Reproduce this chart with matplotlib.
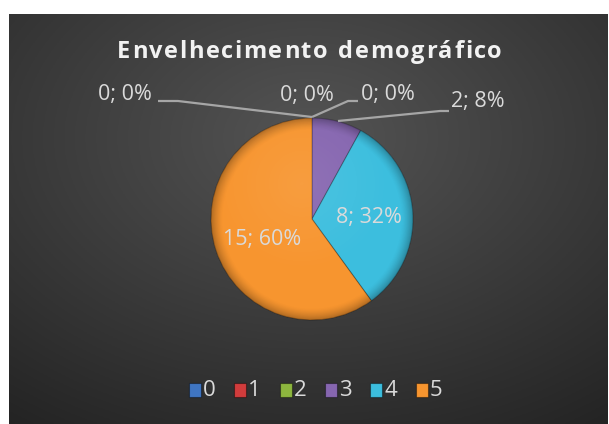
import numpy as np
import matplotlib
matplotlib.use("Agg")
import matplotlib.pyplot as plt
from matplotlib.patches import Circle, Rectangle

# ---- data ----
categories = ["0", "1", "2", "3", "4", "5"]
values = [0, 0, 0, 2, 8, 15]
colors = ["#3F75C2", "#D13C3C", "#8DB63E", "#8666B0", "#3CBEDE", "#F7952F"]
title = "Envelhecimento demográfico"

W, H = 609, 424
fig = plt.figure(figsize=(W / 100, H / 100), dpi=100)
fig.patch.set_facecolor("white")

# ---- dark gradient panel ----
px0, py0, px1, py1 = 9, 14, 608, 424
bg = fig.add_axes([px0 / W, 1 - py1 / H, (px1 - px0) / W, (py1 - py0) / H])
bg.set_axis_off()
yy, xx = np.mgrid[0:200, 0:300]
cx, cy = 150, 60
d = np.sqrt(((xx - cx) / 300) ** 2 + ((yy - cy) / 200) ** 2)
d = d / d.max()
val = 0.33 - 0.19 * d
img = np.dstack([val, val, val])
bg.imshow(img, aspect="auto", extent=[0, 1, 0, 1], origin="upper")
bg.set_xlim(0, 1)
bg.set_ylim(0, 1)

# ---- pie ----
ccx, ccy, R = 312, 219, 101
ax = fig.add_axes([(ccx - R) / W, (H - ccy - R) / H, 2 * R / W, 2 * R / H])
ax.set_axis_off()
wedges, _ = ax.pie(values, colors=colors, startangle=90, counterclock=False,
                   radius=1.0, wedgeprops=dict(linewidth=0.8, edgecolor=(0, 0, 0, 0.25)))
ax.set_xlim(-1, 1)
ax.set_ylim(-1, 1)
ax.set_aspect("equal")

# bevel shading overlay
g = np.linspace(-1, 1, 400)
GX, GY = np.meshgrid(g, g)
rr = np.sqrt(GX ** 2 + GY ** 2)
shade = np.zeros((400, 400, 4))
a = np.clip((rr - 0.88) / 0.12, 0, 1) ** 1.5 * 0.28
shade[..., 3] = a
im = ax.imshow(shade, extent=[-1, 1, -1, 1], origin="lower", zorder=3)
im.set_clip_path(Circle((0, 0), 1.0, transform=ax.transData))
hl = np.zeros((400, 400, 4))
hl[..., :3] = 1.0
hl[..., 3] = np.clip(1 - np.sqrt((GX + 0.1) ** 2 + (GY - 0.35) ** 2) / 0.9, 0, 1) * 0.08
im2 = ax.imshow(hl, extent=[-1, 1, -1, 1], origin="lower", zorder=3)
im2.set_clip_path(Circle((0, 0), 1.0, transform=ax.transData))
ax.set_xlim(-1, 1)
ax.set_ylim(-1, 1)

total = sum(values)
labels = [f"{v}; {round(100 * v / total)}%" for v in values]

def to_data(px, py):
    return ((px - ccx) / R, (ccy - py) / R)

label_pos = [(125, 94), (307, 95), (388, 94), (478, 101), (369, 217), (262, 240)]
txtcol = "#DADADA"
lblfont = dict(family=["Open Sans", "DejaVu Sans"], fontsize=15.5, color=txtcol)
for lp, lab in zip(label_pos, labels):
    x, y = to_data(*lp)
    ax.text(x, y, lab, ha="center", va="center", zorder=6, clip_on=False, **lblfont)

lines = [
    [(158, 101), (178, 101), (312, 117)],
    [(312, 117), (348, 101), (358, 101)],
    [(338, 121), (440, 111), (449, 111)],
]
for ln in lines:
    pts = [to_data(*p) for p in ln]
    ax.plot([p[0] for p in pts], [p[1] for p in pts], color="#A6A6A6", lw=1.6,
            zorder=5, clip_on=False, solid_capstyle="butt")

# ---- title with letter spacing ----
fig.canvas.draw()
rend = fig.canvas.get_renderer()
tfont = dict(family=["Open Sans", "DejaVu Sans"], fontsize=17, fontweight="bold", color="#F2F2F2")
widths = []
for ch in title:
    t = fig.text(0, 0, ch if ch != " " else "n", **tfont)
    bb = t.get_window_extent(rend)
    widths.append(bb.width if ch != " " else bb.width * 0.5)
    t.remove()
left, right = 117, 502
extra = ((right - left) - sum(widths)) / (len(title) - 1)
x = left
for ch, w in zip(title, widths):
    if ch != " ":
        fig.text(x / W, 1 - 58 / H, ch, ha="left", va="baseline", **tfont)
    x += w + extra

# ---- legend ----
legfont = dict(family=["Open Sans", "DejaVu Sans"], fontsize=16, color=txtcol)
lax = fig.add_axes([0, 0, 1, 1])
lax.set_axis_off()
lax.set_xlim(0, W)
lax.set_ylim(H, 0)
step = 45.3
for i, cat in enumerate(categories):
    x0 = 189 + i * step
    lax.add_patch(Rectangle((x0, 383), 12, 14, facecolor=colors[i], edgecolor=(0, 0, 0, 0.4), lw=0.8))
    lax.text(x0 + 14, 390, cat, ha="left", va="center", **legfont)

fig.savefig("out.png", dpi=100, facecolor="white")
